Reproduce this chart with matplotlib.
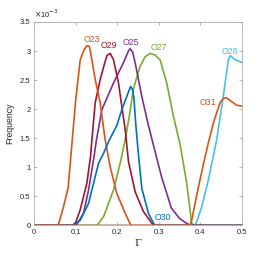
import matplotlib
matplotlib.use('Agg')
import matplotlib.pyplot as plt

# frequency values in units of 1e-3
o23_x = [0, 0.058, 0.070, 0.082, 0.091, 0.100, 0.111, 0.120, 0.127, 0.133, 0.139, 0.147,
         0.159, 0.171, 0.183, 0.199, 0.219, 0.233, 0.5]
o23_y = [0, 0, 0.30, 0.65, 1.40, 2.15, 2.85, 3.02, 3.09, 3.08, 2.85, 2.51,
         2.11, 1.47, 1.01, 0.55, 0.21, 0, 0]

o29_x = [0, 0.092, 0.100, 0.111, 0.127, 0.136, 0.139, 0.147, 0.159, 0.167, 0.175, 0.183,
         0.191, 0.203, 0.211, 0.219, 0.227, 0.243, 0.263, 0.283, 0.290, 0.5]
o29_y = [0, 0, 0.05, 0.27, 0.73, 1.20, 1.47, 2.11, 2.51, 2.72, 2.92, 2.96,
         2.85, 2.45, 2.05, 1.66, 1.10, 0.58, 0.24, 0.04, 0, 0]

o25_x = [0, 0.095, 0.103, 0.119, 0.131, 0.143, 0.150, 0.163, 0.191, 0.215, 0.227, 0.231,
         0.237, 0.243, 0.259, 0.275, 0.290, 0.306, 0.330, 0.350, 0.366, 0.376, 0.5]
o25_y = [0, 0, 0.02, 0.21, 0.61, 1.13, 1.47, 1.99, 2.45, 2.80, 3.00, 3.04,
         2.98, 2.80, 2.22, 1.72, 1.30, 0.85, 0.30, 0.12, 0.04, 0, 0]

o30_x = [0, 0.094, 0.111, 0.131, 0.147, 0.155, 0.167, 0.181, 0.199, 0.211, 0.232, 0.236,
         0.240, 0.245, 0.250, 0.259, 0.275, 0.287, 0.292, 0.5]
o30_y = [0, 0, 0.09, 0.38, 0.84, 1.07, 1.24, 1.47, 1.72, 1.99, 2.39, 2.35,
         2.20, 1.70, 1.30, 0.64, 0.21, 0.04, 0, 0]

o27_x = [0, 0.151, 0.167, 0.175, 0.191, 0.207, 0.219, 0.229, 0.239, 0.255, 0.267, 0.279,
         0.291, 0.303, 0.319, 0.335, 0.351, 0.367, 0.379, 0.385, 0.5]
o27_y = [0, 0, 0.15, 0.30, 0.61, 1.07, 1.47, 1.88, 2.35, 2.74, 2.90, 2.96,
         2.93, 2.85, 2.45, 1.88, 1.40, 0.73, 0.04, 0, 0]

o28_x = [0, 0.386, 0.393, 0.403, 0.419, 0.439, 0.455, 0.467, 0.472, 0.483, 0.495, 0.5]
o28_y = [0, 0, 0.10, 0.32, 0.78, 1.47, 2.22, 2.85, 2.92, 2.85, 2.82, 2.80]

o31_x = [0, 0.375, 0.380, 0.391, 0.407, 0.419, 0.431, 0.447, 0.455, 0.462, 0.475, 0.487, 0.5]
o31_y = [0, 0, 0.12, 0.52, 1.05, 1.42, 1.76, 2.11, 2.18, 2.20, 2.13, 2.07, 2.05]

# name, x, y, colour, label position
series = [
    ('O28', o28_x, o28_y, '#4DBEEE', (0.470, 3.0)),
    ('O27', o27_x, o27_y, '#77AC30', (0.300, 3.06)),
    ('O25', o25_x, o25_y, '#7E2F8E', (0.233, 3.15)),
    ('O29', o29_x, o29_y, '#A2142F', (0.180, 3.10)),
    ('O23', o23_x, o23_y, '#D95319', (0.139, 3.20)),
    ('O30', o30_x, o30_y, '#0072BD', (0.310, 0.13)),
    ('O31', o31_x, o31_y, '#D95319', (0.418, 2.11)),
]

xticks = [0, 0.1, 0.2, 0.3, 0.4, 0.5]
yticks = [0, 0.5, 1, 1.5, 2, 2.5, 3, 3.5]

plt.rcParams['font.family'] = ['Liberation Sans', 'DejaVu Sans']

fig = plt.figure(figsize=(2.58, 2.58), dpi=100)
ax = fig.add_axes([0.132, 0.126, 0.806, 0.789])

for name, xs, ys, c, pos in series:
    ax.plot(xs, ys, color=c, lw=1.2)
    ax.text(pos[0], pos[1], name, color=c, fontsize=6.3, ha='center', va='center')

ax.set_xlim(0, 0.5)
ax.set_ylim(0, 3.5)
ax.set_xticks(xticks)
ax.set_yticks(yticks)
ax.set_xticklabels(['%g' % t for t in xticks])
ax.set_yticklabels(['%g' % t for t in yticks])
ax.tick_params(direction='in', length=2.5, width=0.5, labelsize=5.5,
               colors='#999999', labelcolor='#262626', top=True, right=True, pad=2.5)
for s in ax.spines.values():
    s.set_color('#aaaaaa')
    s.set_linewidth(0.6)

ax.set_ylabel('Frequency', fontsize=6.3, color='#262626', labelpad=4)
ax.set_xlabel('Γ', fontsize=7, color='#262626', family='DejaVu Serif', labelpad=2)
ax.text(0.0, 1.01, r'$\times$10$^{-3}$', transform=ax.transAxes, fontsize=5.5,
        color='#262626', ha='left', va='bottom')

fig.savefig('out.png', dpi=100)
